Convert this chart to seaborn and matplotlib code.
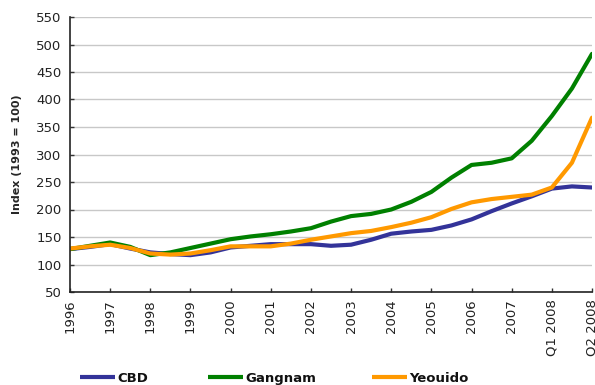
import numpy as np
import pandas as pd
import matplotlib
matplotlib.use("Agg")
import matplotlib.pyplot as plt
import seaborn as sns
from matplotlib.lines import Line2D

# Tick labels (category axis)
tick_labels = ["1996", "1997", "1998", "1999", "2000", "2001", "2002", "2003",
               "2004", "2005", "2006", "2007", "Q1 2008", "Q2 2008"]

# Values read at half-category steps from 1996 to Q2 2008
cbd = [128, 132, 137, 129, 122, 119, 117, 122, 131, 134, 137, 137, 137, 134,
       136, 145, 156, 160, 163, 171, 182, 197, 211, 224, 238, 242, 240]
gangnam = [128, 134, 140, 132, 117, 122, 130, 138, 146, 151, 155, 160, 166, 178,
           188, 192, 200, 214, 232, 258, 281, 285, 293, 325, 370, 420, 483]
yeouido = [129, 133, 136, 130, 120, 118, 120, 126, 133, 133, 133, 138, 145, 151,
           157, 161, 168, 176, 186, 201, 213, 219, 223, 227, 240, 285, 367]

series = {"CBD": cbd, "Gangnam": gangnam, "Yeouido": yeouido}
colors = {"CBD": "#333399", "Gangnam": "#008000", "Yeouido": "#FF9900"}

rows = []
for name, vals in series.items():
    for k, v in enumerate(vals):
        rows.append({"pos": k * (len(tick_labels) - 1) / (len(vals) - 1),
                     "value": v, "series": name})
df = pd.DataFrame(rows)

sns.set_theme(style="white")
plt.rcParams["font.family"] = ["DejaVu Sans"]

W, H = 595, 385
fig = plt.figure(figsize=(W / 100, H / 100), dpi=100)
ax = fig.add_axes([70 / W, 1 - 292 / H, 522 / W, 275 / H])

ax.set_ylim(50, 550)
ax.set_xlim(0, len(tick_labels) - 1)
ax.set_yticks(np.arange(50, 551, 50))
ax.yaxis.grid(True, color="#c8c8c8", linewidth=1.0)
ax.set_axisbelow(True)

sns.lineplot(data=df, x="pos", y="value", hue="series", palette=colors,
             linewidth=3, ax=ax, legend=False, sort=False)
for ln in ax.lines:
    ln.set_solid_joinstyle("round")
    ln.set_solid_capstyle("round")

ax.set_xticks(range(len(tick_labels)))
ax.set_xticklabels(tick_labels, rotation=90, fontsize=9.5, color="#222222")
ax.tick_params(axis="y", labelsize=9.5, labelcolor="#222222", direction="in",
               length=3, width=1, color="#333333", left=True, pad=6)
ax.tick_params(axis="x", direction="in", length=3, width=1, color="#333333",
               bottom=True, pad=5)

for side in ["top", "right"]:
    ax.spines[side].set_visible(False)
for side in ["left", "bottom"]:
    ax.spines[side].set_color("#222222")
    ax.spines[side].set_linewidth(1.2)

ax.set_xlabel("")
ax.set_ylabel("Index (1993 = 100)", fontsize=8, fontweight="bold", labelpad=10)

# Legend row drawn in figure pixel coordinates (baseline-aligned labels)
legend_x = {"CBD": 80, "Gangnam": 208, "Yeouido": 372}
for name in series:
    x0 = legend_x[name]
    fig.add_artist(Line2D([x0 / W, (x0 + 35) / W], [1 - 377 / H, 1 - 377 / H],
                          color=colors[name], linewidth=3,
                          solid_capstyle="butt", transform=fig.transFigure))
    fig.text((x0 + 37) / W, 1 - 382 / H, name, fontsize=9.5,
             fontweight="bold", color="#111111", va="baseline", ha="left")

fig.savefig("out.png", dpi=100)
